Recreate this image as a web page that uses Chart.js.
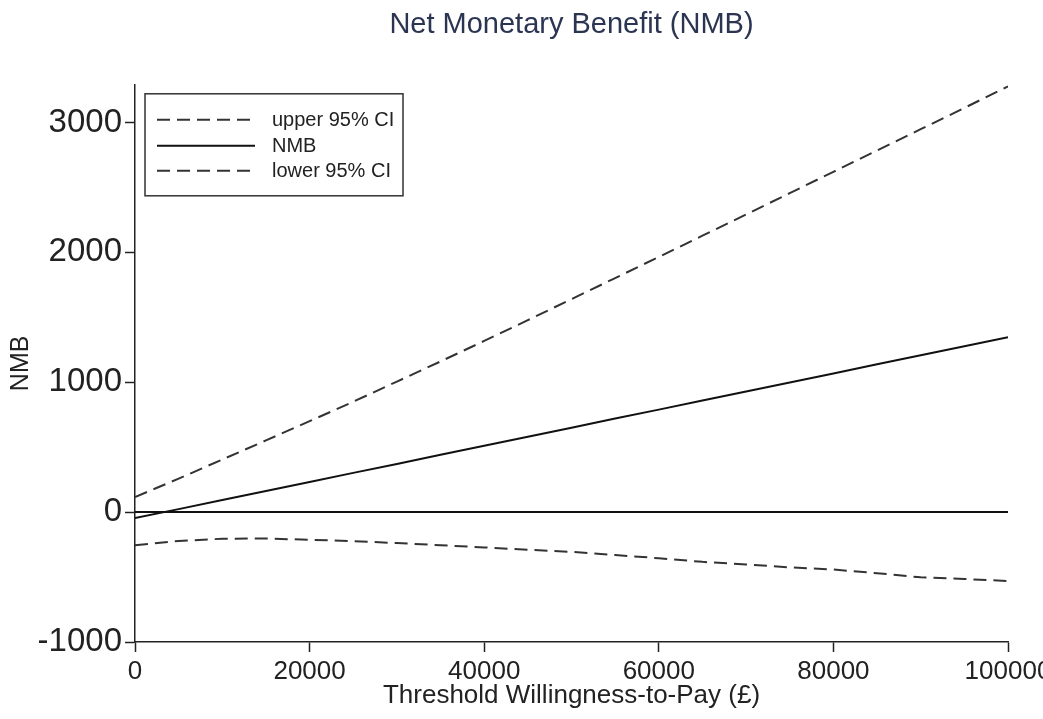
<!DOCTYPE html>
<html>
<head>
<meta charset="utf-8">
<title>Net Monetary Benefit (NMB)</title>
<script src="https://cdn.jsdelivr.net/npm/chart.js@4"></script>
<style>
  html, body { margin: 0; padding: 0; background: #fff; overflow: hidden; width: 1043px; height: 719px; }
  #wrap { position: absolute; left: 0; top: 0; width: 1100px; height: 719px; }
  canvas { display: block; }
</style>
</head>
<body>
<div id="wrap"><canvas id="nmb" width="1100" height="719"></canvas></div>
<script>
// Willingness-to-pay thresholds (£)
const thresholds = [0, 5000, 10000, 15000, 20000, 25000, 30000, 35000, 40000, 45000, 50000,
                    55000, 60000, 65000, 70000, 75000, 80000, 85000, 90000, 95000, 100000];

// Net monetary benefit and its 95% confidence limits at each threshold
const upperCI = [116, 258, 405, 552, 700, 850, 1005, 1160, 1318, 1478, 1640,
                 1802, 1965, 2128, 2292, 2456, 2620, 2784, 2948, 3112, 3278];
const nmb     = [-46, 23, 93, 162, 232, 302, 371, 441, 511, 580, 650,
                 720, 789, 859, 929, 998, 1068, 1138, 1207, 1277, 1346];
const lowerCI = [-255, -222, -205, -203, -213, -224, -238, -255, -272, -290, -306,
                 -330, -355, -383, -403, -425, -442, -470, -502, -515, -530];

// Reference line at NMB = 0
const zeroX = [0, 100000];
const zeroY = [0, 0];

// Axis tick values
const xTicks = [0, 20000, 40000, 60000, 80000, 100000];
const yTicks = [-1000, 0, 1000, 2000, 3000];

const toPoints = (xs, ys) => xs.map((x, i) => ({ x: x, y: ys[i] }));

const FONT = "'Liberation Sans', Arial, Helvetica, sans-serif";

// Boxed legend drawn in the upper-left corner of the plot area
const framedLegend = {
  id: 'framedLegend',
  afterDatasetsDraw(chart) {
    const { ctx, chartArea } = chart;
    const left = chartArea.left + 10;
    const top = chartArea.top + 9;
    const w = 258, h = 102;
    ctx.save();
    ctx.strokeStyle = '#333';
    ctx.lineWidth = 1.5;
    ctx.setLineDash([]);
    ctx.strokeRect(left, top, w, h);
    const items = chart.data.datasets.filter(d => d.inLegend);
    const rowY = [26, 52, 77];
    items.forEach((d, i) => {
      const y = top + rowY[i];
      ctx.beginPath();
      ctx.setLineDash(d.borderDash || []);
      ctx.strokeStyle = d.borderColor;
      ctx.lineWidth = d.borderWidth;
      ctx.moveTo(left + 12, y);
      ctx.lineTo(left + 110, y);
      ctx.stroke();
      ctx.setLineDash([]);
      ctx.fillStyle = '#222';
      ctx.font = '20px ' + FONT;
      ctx.textBaseline = 'middle';
      ctx.textAlign = 'left';
      ctx.fillText(d.label, left + 127, y + 1);
    });
    ctx.restore();
  }
};

new Chart(document.getElementById('nmb'), {
  type: 'line',
  data: {
    datasets: [
      {
        label: 'upper 95% CI',
        data: toPoints(thresholds, upperCI),
        borderColor: '#333',
        borderWidth: 2,
        borderDash: [13, 7],
        inLegend: true
      },
      {
        label: 'NMB',
        data: toPoints(thresholds, nmb),
        borderColor: '#111',
        borderWidth: 2,
        inLegend: true
      },
      {
        label: 'lower 95% CI',
        data: toPoints(thresholds, lowerCI),
        borderColor: '#333',
        borderWidth: 2,
        borderDash: [13, 7],
        inLegend: true
      },
      {
        label: 'zero',
        data: toPoints(zeroX, zeroY),
        borderColor: '#111',
        borderWidth: 2,
        inLegend: false
      }
    ]
  },
  options: {
    responsive: false,
    animation: false,
    devicePixelRatio: 1,
    layout: { padding: { left: 0, right: 92, top: 0, bottom: 0 } },
    elements: {
      point: { radius: 0, hoverRadius: 0 },
      line: { tension: 0, fill: false, borderCapStyle: 'butt' }
    },
    plugins: {
      legend: { display: false },
      tooltip: { enabled: false },
      title: {
        display: true,
        fullSize: false,
        text: 'Net Monetary Benefit (NMB)',
        color: '#2b3552',
        font: { family: FONT, size: 29, weight: 'normal' },
        padding: { top: 8, bottom: 42 }
      }
    },
    scales: {
      x: {
        type: 'linear',
        min: 0,
        max: 100000,
        afterFit: s => { s.height = 77; },
        afterBuildTicks: s => { s.ticks = xTicks.map(v => ({ value: v })); },
        grid: { display: true, drawOnChartArea: false, drawTicks: true, tickLength: 10, tickColor: '#222', tickWidth: 1.5 },
        border: { display: true, color: '#222', width: 1.5 },
        ticks: {
          color: '#222',
          padding: 4,
          maxRotation: 0,
          font: { family: FONT, size: 26 },
          callback: v => String(v)
        },
        title: {
          display: true,
          text: 'Threshold Willingness-to-Pay (£)',
          color: '#222',
          font: { family: FONT, size: 26 },
          padding: { top: 0, bottom: 8 }
        }
      },
      y: {
        type: 'linear',
        min: -1000,
        max: 3290,
        afterFit: s => { s.width = 135; },
        afterBuildTicks: s => { s.ticks = yTicks.map(v => ({ value: v })); },
        grid: { display: true, drawOnChartArea: false, drawTicks: true, tickLength: 10, tickColor: '#222', tickWidth: 1.5 },
        border: { display: true, color: '#222', width: 1.5 },
        ticks: {
          color: '#222',
          padding: 3,
          font: { family: FONT, size: 33 },
          callback: v => String(v)
        },
        title: {
          display: true,
          text: 'NMB',
          color: '#222',
          font: { family: FONT, size: 25 },
          padding: { top: 6, bottom: 0 }
        }
      }
    }
  },
  plugins: [framedLegend]
});
</script>
</body>
</html>
